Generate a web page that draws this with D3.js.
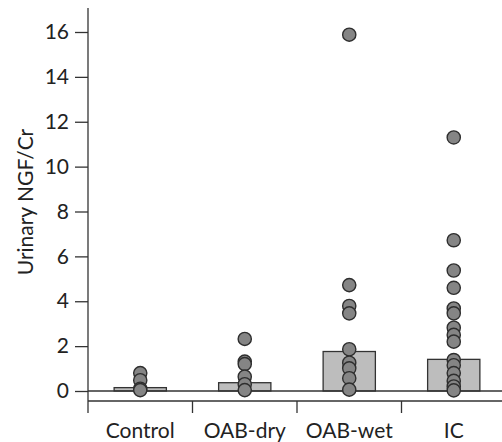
<!DOCTYPE html>
<html>
<head>
<meta charset="utf-8">
<script src="https://cdn.jsdelivr.net/npm/d3@7"></script>
<style>
  body { margin: 0; background: #fff; }
  svg text { font-family: Lato, "Open Sans", sans-serif; fill: #222; }
</style>
</head>
<body>
<svg id="chart" width="502" height="442"></svg>
<script>
// groups and their means (bars)
let groups = ["Control", "OAB-dry", "OAB-wet", "IC"];
let means = [0.15, 0.37, 1.76, 1.41];

// individual patients (dots)
let controlVals = [0.8, 0.48, 0.1, 0.04];
let oabDryVals = [2.32, 1.31, 1.2, 0.64, 0.3, 0.04];
let oabWetVals = [15.88, 4.72, 3.79, 3.46, 1.86, 1.26, 1.01, 0.57, 0.06];
let icVals = [11.3, 6.72, 5.37, 4.6, 3.68, 3.46, 2.82, 2.5, 2.2, 1.38, 1.15, 0.8, 0.45, 0.2, 0.03];

let yTicks = [0, 2, 4, 6, 8, 10, 12, 14, 16];

let svg = d3.select("#chart");
let left = 88, right = 506, bottom = 401;
let fontSize = "21px";

let x = d3.scaleBand().domain(groups).range([left, right]);
let y = d3.scaleLinear().domain([0, 16]).range([391, 32]);

let dots = [controlVals, oabDryVals, oabWetVals, icVals]
  .flatMap((vals, i) => vals.map(v => ({g: groups[i], v: v})));

// bars
svg.append("g").selectAll("rect")
  .data(groups)
  .join("rect")
  .attr("x", d => x(d) + x.bandwidth() * 0.25)
  .attr("width", x.bandwidth() * 0.5)
  .attr("y", (d, i) => y(means[i]))
  .attr("height", (d, i) => y(0) - y(means[i]))
  .attr("fill", "#bdbdbd")
  .attr("stroke", "#333")
  .attr("stroke-width", 1.3);

// zero reference line
svg.append("line")
  .attr("x1", left).attr("x2", 502)
  .attr("y1", y(0)).attr("y2", y(0))
  .attr("stroke", "#333").attr("stroke-width", 1.3);

// y axis
let yAxis = svg.append("g")
  .attr("transform", `translate(${left},0)`)
  .call(d3.axisLeft(y).tickValues(yTicks).tickSize(13).tickPadding(6));
yAxis.select(".domain").remove();
yAxis.append("line")
  .attr("x1", 0).attr("x2", 0)
  .attr("y1", 8).attr("y2", 413)
  .attr("stroke", "#333").attr("stroke-width", 1.3);
yAxis.selectAll(".tick line").attr("stroke", "#333").attr("stroke-width", 1.3);
yAxis.selectAll(".tick text").style("font-size", fontSize).attr("fill", "#222");

// x axis
let xAxis = svg.append("g")
  .attr("transform", `translate(0,${bottom})`);
xAxis.append("line")
  .attr("x1", left).attr("x2", 502)
  .attr("y1", 0).attr("y2", 0)
  .attr("stroke", "#333").attr("stroke-width", 1.3);
xAxis.selectAll(".sep")
  .data(groups.slice(1))
  .join("line")
  .attr("class", "sep")
  .attr("x1", d => x(d)).attr("x2", d => x(d))
  .attr("y1", 0).attr("y2", 12)
  .attr("stroke", "#333").attr("stroke-width", 1.3);
xAxis.selectAll("text")
  .data(groups)
  .join("text")
  .attr("x", d => x(d) + x.bandwidth() / 2)
  .attr("y", 37)
  .attr("text-anchor", "middle")
  .style("font-size", fontSize)
  .text(d => d);

// dots
svg.append("g").selectAll("circle")
  .data(dots)
  .join("circle")
  .attr("cx", d => x(d.g) + x.bandwidth() / 2)
  .attr("cy", d => y(d.v))
  .attr("r", 6.6)
  .attr("fill", "#858585")
  .attr("stroke", "#2e2e2e")
  .attr("stroke-width", 1.4);

// y label
svg.append("text")
  .attr("transform", "translate(33,202) rotate(-90)")
  .attr("text-anchor", "middle")
  .style("font-size", fontSize)
  .text("Urinary NGF/Cr");
</script>
</body>
</html>
